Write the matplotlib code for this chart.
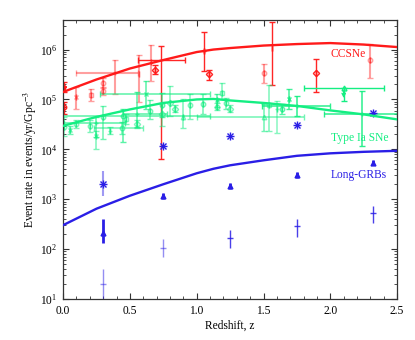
import numpy as np
import matplotlib
matplotlib.use("Agg")
import matplotlib.pyplot as plt
from matplotlib.ticker import MultipleLocator, LogLocator, NullFormatter, FuncFormatter

plt.rcParams['font.family'] = ['Liberation Serif', 'DejaVu Serif']
plt.rcParams['mathtext.fontset'] = 'stix'

# ---------------- data (log10 of event rate, events/yr/Gpc^3) ----------------
model_z = [0.0, 0.25, 0.5, 0.75, 1.0, 1.125, 1.25, 1.5, 1.75, 2.0, 2.25, 2.5]
ccsne_model = [5.15, 5.40, 5.62, 5.79, 5.95, 6.00, 6.03, 6.08, 6.11, 6.13, 6.10, 6.05]
snia_model = [4.47, 4.65, 4.80, 4.93, 5.00, 5.01, 4.98, 4.93, 4.87, 4.78, 4.70, 4.60]
grb_model = [2.48, 2.81, 3.07, 3.30, 3.52, 3.61, 3.68, 3.78, 3.87, 3.92, 3.95, 3.97]

# CCSNe observations (solid)
ccs_z = [0.005, 0.01, 0.69, 0.73, 1.055, 1.095, 1.56, 1.89]
ccs_v = [5.24, 4.85, 5.60, 5.80, 5.97, 5.50, 6.03, 5.52]
ccs_lo = [5.14, 4.70, 5.50, 3.80, 5.57, 5.39, 5.28, 5.15]
ccs_hi = [5.34, 4.95, 5.70, 6.07, 6.35, 5.60, 6.55, 5.81]
ccs_zlo = [0.005, 0.01, 0.69, 0.56, 1.055, 1.095, 1.56, 1.89]
ccs_zhi = [0.005, 0.01, 0.69, 0.91, 1.055, 1.095, 1.56, 1.89]
# CCSNe observations (faint)
ccf_z = [0.10, 0.21, 0.30, 0.30, 0.39, 0.57, 0.66, 1.50, 2.30]
ccf_v = [5.05, 5.08, 5.33, 5.16, 5.53, 5.50, 5.75, 5.52, 5.80]
ccf_lo = [4.80, 4.96, 5.23, 5.08, 5.10, 4.94, 5.37, 5.33, 5.42]
ccf_hi = [5.25, 5.20, 5.43, 5.24, 5.80, 5.90, 6.10, 5.72, 6.11]
ccf_zlo = [0.10, 0.21, 0.30, 0.30, 0.10, 0.57, 0.66, 1.50, 2.30]
ccf_zhi = [0.10, 0.21, 0.30, 0.30, 0.56, 0.57, 0.66, 1.50, 2.30]

# Type Ia SNe observations
ia_z = [0.01, 0.05, 0.10, 0.20, 0.245, 0.25, 0.30, 0.35, 0.44, 0.45, 0.47, 0.55,
        0.55, 0.62, 0.65, 0.74, 0.74, 0.80, 0.84, 0.90, 0.95, 1.05, 1.15, 1.15,
        1.19, 1.22, 1.25, 1.50, 1.54, 1.60, 1.64, 1.69, 1.75, 2.24]
ia_v = [4.44, 4.38, 4.50, 4.47, 4.52, 4.27, 4.65, 4.37, 4.43, 4.67, 4.60, 4.70,
        4.50, 5.10, 4.77, 4.88, 4.70, 4.93, 4.81, 4.65, 4.88, 4.90, 4.98, 4.85,
        5.13, 4.93, 4.81, 4.65, 4.88, 4.80, 4.81, 5.01, 4.87, 4.70]
ia_lo = [4.26, 4.30, 4.42, 4.35, 4.24, 4.00, 4.20, 4.30, 4.30, 4.14, 4.50, 4.45,
         4.42, 4.80, 4.60, 4.65, 4.47, 4.67, 4.74, 4.43, 4.60, 4.70, 4.85, 4.78,
         5.00, 4.80, 4.74, 4.37, 4.37, 4.33, 4.70, 4.80, 4.67, 4.07]
ia_hi = [4.64, 4.46, 4.58, 4.58, 4.64, 4.37, 4.86, 4.44, 4.55, 4.80, 4.70, 5.14,
         4.58, 5.37, 4.99, 5.13, 4.93, 5.27, 4.88, 5.00, 5.10, 5.10, 5.10, 4.92,
         5.33, 5.03, 4.88, 4.90, 5.28, 4.97, 4.90, 5.20, 5.07, 5.17]
ia_zlo = [0.01, 0.05, 0.10, 0.20, 0.01, 0.25, 0.30, 0.35, 0.23, 0.00, 0.47, 0.45,
          0.55, 0.28, 0.65, 0.74, 0.74, 0.80, 0.84, 0.90, 0.95, 1.05, 1.15, 1.15,
          1.19, 1.22, 1.25, 1.00, 1.54, 1.60, 1.64, 1.69, 1.49, 1.95]
ia_zhi = [0.01, 0.05, 0.10, 0.20, 0.46, 0.25, 0.30, 0.35, 0.60, 1.10, 0.47, 0.78,
          0.55, 1.10, 0.65, 0.74, 0.74, 0.80, 0.84, 0.90, 0.95, 1.05, 1.15, 1.15,
          1.19, 1.22, 1.25, 1.80, 1.54, 1.60, 1.64, 1.69, 2.00, 2.50]
# Type Ia upper limit
ia_lim_z = [2.10]
ia_lim_v = [5.23]
ia_lim_zlo = [1.80]
ia_lim_zhi = [2.40]

# Long-GRB observations
grb_z = [0.30, 0.75, 1.25, 1.75, 2.32]
grb_star_v = [3.30, 4.06, 4.26, 4.48, 4.72]
grb_tri_v = [2.33, 3.07, 3.27, 3.48, 3.73]
grb_tri_lo = [2.12, 3.00, 3.20, 3.42, 3.68]
grb_tri_hi = [2.60, 3.13, 3.33, 3.55, 3.78]
grb_plus_v = [1.30, 2.03, 2.23, 2.47, 2.72]
grb_plus_lo = [1.00, 1.84, 2.03, 2.25, 2.52]
grb_plus_hi = [1.60, 2.20, 2.38, 2.60, 2.86]

labels = ["CCSNe", "Type Ia SNe", "Long-GRBs"]

# ---------------- styles ----------------
RED = '#ff1a1a'
GREEN = '#14ee82'
BLUE = '#2a1ee6'
ccs_markers = ['*', 'o', 'D', 'None', '+', 'D', 'None', 'D']
ccf_markers = ['x', 's', 'o', 'o', '+', 'None', 'None', 'o', 'o']
ia_markers = ['o', 'x', 'o', 'o', '+', 'x', 'o', '+', 'o', 'o', 's', '+',
              'D', 'x', 'o', 'o', 'D', 'D', 'D', '^', 'o', 'o', 'x', 'o',
              's', 'o', 'D', '^', 's', '+', 'o', 'x', '+', '+']
ia_alpha = [0.55, 0.6, 0.55, 0.55, 0.7, 0.55, 0.6, 0.55, 0.6, 0.7, 0.55, 0.7,
            0.55, 0.7, 0.6, 0.7, 0.55, 0.55, 0.6, 0.55, 0.55, 0.6, 0.7, 0.6,
            0.55, 0.6, 0.55, 0.6, 0.55, 0.5, 0.7, 0.8, 0.9, 0.9]


def P(v):
    return 10.0 ** np.asarray(v, dtype=float)


def draw(ax, z, v, lo, hi, zlo, zhi, color, marker, alpha, ms=3.2, lw=1.0):
    y = 10.0 ** v
    yerr = [[y - 10.0 ** lo], [10.0 ** hi - y]]
    xerr = [[z - zlo], [zhi - z]]
    mfc = 'none' if marker in ('o', 'D', 's', '^') else color
    ax.errorbar([z], [y], yerr=yerr, xerr=xerr, fmt=marker if marker != 'None' else 'none',
                color=color, ecolor=color, alpha=alpha, ms=ms, mfc=mfc, mec=color,
                mew=1.0, elinewidth=lw, capsize=2.4, capthick=lw)


fig = plt.figure(figsize=(4.15, 3.4), dpi=100)
ax = fig.add_axes([0.152, 0.1206, 0.805, 0.822])
ax.set_yscale('log')
ax.set_xlim(0, 2.5)
ax.set_ylim(10, 4.0e6)

# models
ax.plot(model_z, P(ccsne_model), color=RED, lw=1.7, zorder=5)
ax.plot(model_z, P(snia_model), color=GREEN, lw=1.7, zorder=5)
ax.plot(model_z, P(grb_model), color=BLUE, lw=1.7, zorder=5)

# CCSNe points
for i in range(len(ccf_z)):
    draw(ax, ccf_z[i], ccf_v[i], ccf_lo[i], ccf_hi[i], ccf_zlo[i], ccf_zhi[i],
         RED, ccf_markers[i], 0.42, lw=1.5)
for i in range(len(ccs_z)):
    draw(ax, ccs_z[i], ccs_v[i], ccs_lo[i], ccs_hi[i], ccs_zlo[i], ccs_zhi[i],
         RED, ccs_markers[i], 0.95)

# Type Ia points
for i in range(len(ia_z)):
    draw(ax, ia_z[i], ia_v[i], ia_lo[i], ia_hi[i], ia_zlo[i], ia_zhi[i],
         GREEN, ia_markers[i], ia_alpha[i], lw=1.1)
for i in range(len(ia_lim_z)):
    y = 10.0 ** ia_lim_v[i]
    ax.errorbar([ia_lim_z[i]], [y], xerr=[[ia_lim_z[i] - ia_lim_zlo[i]], [ia_lim_zhi[i] - ia_lim_z[i]]],
                yerr=[[y * 0.45], [0]], fmt='^', color=GREEN,
                ms=3.5, mfc='none', mew=1.0, elinewidth=1.0, capsize=2.4)
    ax.annotate('', xy=(ia_lim_z[i], y * 0.55), xytext=(ia_lim_z[i], y),
                arrowprops=dict(arrowstyle='->', color=GREEN, lw=1.0, mutation_scale=6))

# Long-GRB points
for i in range(len(grb_z)):
    z = grb_z[i]
    ys = 10.0 ** grb_star_v[i]
    ax.plot([z], [ys], marker='x', color=BLUE, ms=5, mew=1.0, ls='none')
    ax.plot([z], [ys], marker='+', color=BLUE, ms=5.5, mew=1.0, ls='none')
    yt = 10.0 ** grb_tri_v[i]
    ax.errorbar([z], [yt], yerr=[[yt - 10.0 ** grb_tri_lo[i]], [10.0 ** grb_tri_hi[i] - yt]],
                fmt='^', color=BLUE, ms=3.5, elinewidth=2.0, capsize=0)
    yp = 10.0 ** grb_plus_v[i]
    ax.errorbar([z], [yp], yerr=[[yp - 10.0 ** grb_plus_lo[i]], [10.0 ** grb_plus_hi[i] - yp]],
                fmt='_', color=BLUE, ms=5, elinewidth=1.0, capsize=0,
                alpha=0.5 if i < 2 else 0.85)
ax.errorbar([grb_z[0]], [10.0 ** grb_star_v[0]],
            yerr=[[10.0 ** grb_star_v[0] - 10.0 ** 3.07], [10.0 ** 3.57 - 10.0 ** grb_star_v[0]]],
            fmt='none', ecolor=BLUE, alpha=0.45, elinewidth=1.5, capsize=0)

# labels
ax.text(0.854, 0.878, labels[0], transform=ax.transAxes, color=RED, fontsize=8.3,
        ha='center', va='center')
ax.text(0.887, 0.577, labels[1], transform=ax.transAxes, color=GREEN, fontsize=8.3,
        ha='center', va='center')
ax.text(0.886, 0.442, labels[2], transform=ax.transAxes, color=BLUE, fontsize=8.3,
        ha='center', va='center')

ax.set_xlabel('Redshift, z', fontsize=8.3, labelpad=2)
ax.set_ylabel('Event rate in events/yr/Gpc$^{-3}$', fontsize=8.3, labelpad=1)

ax.xaxis.set_major_locator(MultipleLocator(0.5))
ax.xaxis.set_minor_locator(MultipleLocator(0.1))
ax.xaxis.set_major_formatter(FuncFormatter(lambda v, p: f"{v:.1f}"))
ax.yaxis.set_major_locator(LogLocator(base=10, numticks=20))
ax.yaxis.set_minor_locator(LogLocator(base=10, subs=np.arange(2, 10), numticks=20))
ax.yaxis.set_minor_formatter(NullFormatter())
ax.tick_params(which='both', direction='in', top=True, right=True, labelsize=8.3,
               color='#333333')
ax.tick_params(which='major', length=4, width=0.8, pad=4)
ax.tick_params(which='minor', length=2, width=0.6)
for s in ax.spines.values():
    s.set_color('#333333')
    s.set_linewidth(0.9)

fig.savefig('out.png', dpi=100)
